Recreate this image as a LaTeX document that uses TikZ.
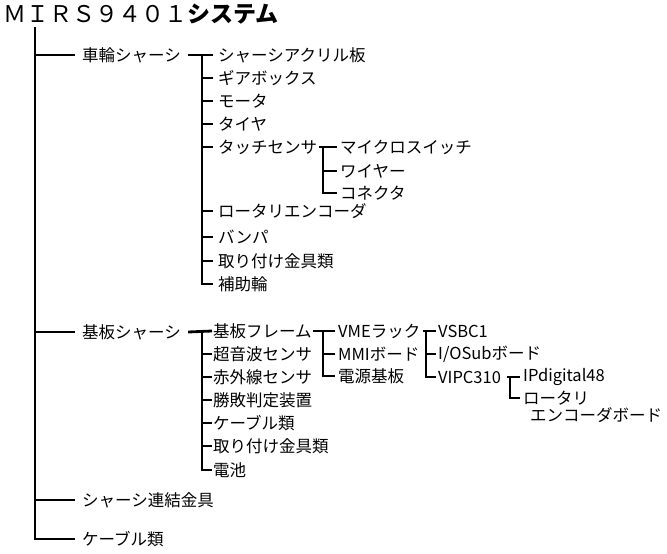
\documentclass[tikz,border=0pt]{standalone}
\usepackage{fontspec}
\setmainfont{Noto Sans CJK JP}
\tikzset{
  item/.style={anchor=west,inner sep=0pt,font=\fontsize{16.5}{18}\selectfont},
  tree/.style={line width=2.8pt},
}

\begin{document}
\begin{tikzpicture}[x=1pt,y=-1pt]
\useasboundingbox (0,0) rectangle (667,554);

\node[anchor=west,inner sep=0pt,font=\fontsize{23}{26}\selectfont] (title) at (3,14) {ＭＩＲＳ９４０１\textbf{システム}};
\coordinate (top) at (35,27);

% first level
\node[item] (chassis) at (82,55) {車輪シャーシ};
\node[item] (board) at (82,332) {基板シャーシ};
\node[item] (joint) at (82,500) {シャーシ連結金具};
\node[item] (cable) at (82,539) {ケーブル類};

% chassis parts
\node[item] (acryl) at (218,55) {シャーシアクリル板};
\node[item] (gear) at (218,78) {ギアボックス};
\node[item] (motor) at (218,101) {モータ};
\node[item] (tire) at (218,124) {タイヤ};
\node[item] (touch) at (218,147) {タッチセンサ};
\node[item] (encoder) at (218,211) {ロータリエンコーダ};
\node[item] (bumper) at (218,237) {バンパ};
\node[item] (fitting) at (218,261) {取り付け金具類};
\node[item] (wheel) at (218,284) {補助輪};

\node[item] (micro) at (340,147) {マイクロスイッチ};
\node[item] (wire) at (340,171) {ワイヤー};
\node[item] (conn) at (340,193) {コネクタ};

% board parts
\node[item] (frame) at (213,331) {基板フレーム};
\node[item] (sonic) at (213,354) {超音波センサ};
\node[item] (infra) at (213,377) {赤外線センサ};
\node[item] (judge) at (213,400) {勝敗判定装置};
\node[item] (cable2) at (213,423) {ケーブル類};
\node[item] (fitting2) at (213,446) {取り付け金具類};
\node[item] (battery) at (213,470) {電池};

\node[item] (vme) at (338,331) {VMEラック};
\node[item] (mmi) at (338,354) {MMIボード};
\node[item] (power) at (338,376) {電源基板};

\node[item] (vsbc) at (438,331) {VSBC1};
\node[item] (iosub) at (438,354) {I/OSubボード};
\node[item] (vipc) at (438,377) {VIPC310};

\node[item] (ipd) at (523,377) {IPdigital48};
\node[item] (rotary) at (523,398) {ロータリ};
\node[item] (rotary2) at (530,415) {エンコーダボード};

% trunk
\foreach \n in {chassis,board,joint,cable}
  \draw[tree] (top) |- ([xshift=-7pt]\n.west);

% chassis tree
\coordinate (cfork) at (202,55);
\draw[tree] ([xshift=7pt]chassis.east) -- ([xshift=-5pt]acryl.west);
\foreach \n in {gear,motor,tire,touch,encoder,bumper,fitting,wheel}
  \draw[tree] (cfork) |- ([xshift=-5pt]\n.west);

\coordinate (tfork) at (323,147);
\draw[tree] ([xshift=2pt]touch.east) -- ([xshift=-3pt]micro.west);
\foreach \n in {wire,conn}
  \draw[tree] (tfork) |- ([xshift=-3pt]\n.west);

% board tree
\coordinate (bfork) at (202,331);
\draw[tree] ([xshift=7pt]board.east) -- ([xshift=-1pt]frame.west);
\foreach \n in {sonic,infra,judge,cable2,fitting2,battery}
  \draw[tree] (bfork) |- ([xshift=-1pt]\n.west);

\coordinate (ffork) at (323,331);
\draw[tree] ([xshift=1pt]frame.east) -- ([xshift=-3pt]vme.west);
\foreach \n in {mmi,power}
  \draw[tree] (ffork) |- ([xshift=-3pt]\n.west);

\coordinate (vfork) at (426,331);
\draw[tree] ([xshift=2pt]vme.east) -- ([xshift=-2pt]vsbc.west);
\foreach \n in {iosub,vipc}
  \draw[tree] (vfork) |- ([xshift=-2pt]\n.west);

\coordinate (pfork) at (510,377);
\draw[tree] ([xshift=6pt]vipc.east) -- ([xshift=-3pt]ipd.west);
\draw[tree] (pfork) |- ([xshift=-3pt]rotary.west);

\end{tikzpicture}
\end{document}
